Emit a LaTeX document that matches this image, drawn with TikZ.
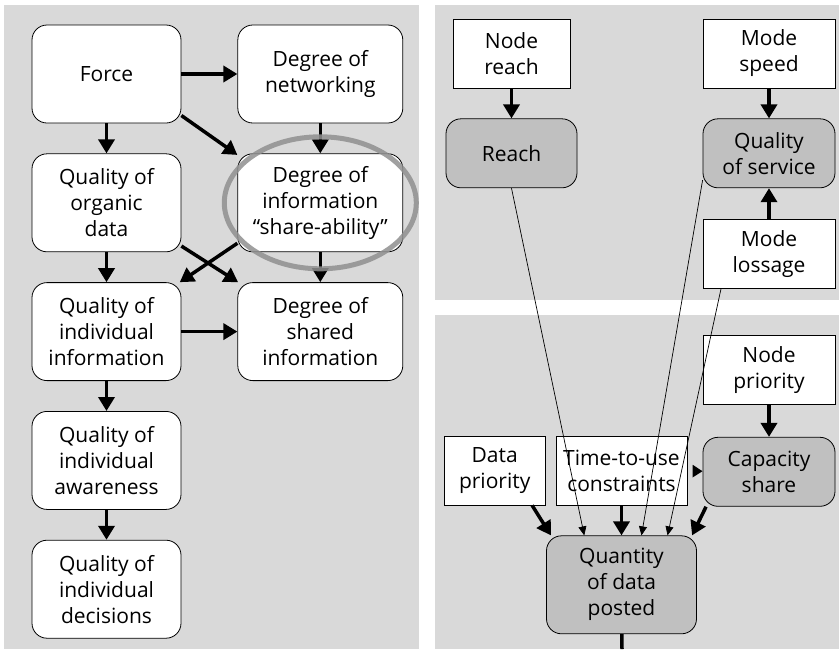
\documentclass[tikz,border=0pt]{standalone}
\usepackage{fontspec}
\setmainfont{Open Sans}
\usetikzlibrary{positioning,arrows.meta}
\definecolor{panel}{HTML}{D9D9D9}
\definecolor{shade}{HTML}{C0C0C0}
\definecolor{ring}{HTML}{909090}

\begin{document}
\begin{tikzpicture}[x=1pt, y=1pt, font=\fontsize{21}{26}\selectfont,
      c/.style={draw, fill=white, rounded corners=15pt, minimum width=149pt,
                minimum height=98pt, inner sep=0pt, align=center, line width=0.8pt},
      cw/.style={c, minimum width=165pt},
      cg/.style={draw, fill=shade, rounded corners=15pt, minimum height=69pt,
                 inner sep=0pt, align=center, line width=0.8pt},
      bx/.style={draw, fill=white, minimum height=69pt, inner sep=0pt,
                 align=center, line width=0.8pt},
      ar/.style={-{Triangle[length=14pt, width=16pt]}, line width=3.5pt},
      th/.style={-{Triangle[length=9pt, width=8pt]}, line width=0.7pt}]
    \useasboundingbox (0,0) rectangle (839,-649);
    \fill[panel] (4,-5) rectangle (419,-649);
    \fill[panel] (435,-5) rectangle (839,-300);
    \fill[panel] (435,-315) rectangle (839,-649);

    % left panel
    \node[c] (force) at (106.5,-74) {Force};
    \node[cw, right=56pt of force] (net) {Degree of\\networking};
    \node[c, below=30pt of force] (org) {Quality of\\organic\\data};
    \node[cw, below=30pt of net] (share) {Degree of\\information\\“share-ability”};
    \node[c, below=30pt of org] (indinfo) {Quality of\\individual\\information};
    \node[cw, below=30pt of share] (shared) {Degree of\\shared\\information};
    \node[c, below=30pt of indinfo] (aware) {Quality of\\individual\\awareness};
    \node[c, below=30pt of aware] (decis) {Quality of\\individual\\decisions};

    \draw[ar] (force) -- (net);
    \draw[ar] (force) -- (org);
    \draw[ar] (force.-29) -- (share.150);
    \draw[ar] (net) -- (share);
    \draw[ar] (org) -- (indinfo);
    \draw[ar] (org.-30) -- (shared.149);
    \draw[ar] (share.206) -- (indinfo.34);
    \draw[ar] (share) -- (shared);
    \draw[ar] (indinfo) -- (shared);
    \draw[ar] (indinfo) -- (aware);
    \draw[ar] (aware) -- (decis);
    \draw[ring, line width=5pt, opacity=.85] (share) ellipse [x radius=96, y radius=66];

    % right panel
    \node[bx, minimum width=117pt] (nreach) at (511.5,-53.5) {Node\\reach};
    \node[cg, minimum width=131pt, below=30pt of nreach] (reach) {Reach};
    \node[bx, minimum width=132pt] (speed) at (769,-53.5) {Mode\\speed};
    \node[cg, minimum width=132pt, below=30pt of speed] (qos) {Quality\\of service};
    \node[bx, minimum width=132pt, below=31pt of qos] (loss) {Mode\\lossage};
    \node[bx, minimum width=132pt] (npri) at (769,-370) {Node\\priority};
    \node[cg, minimum width=132pt, below=32pt of npri] (cap) {Capacity\\share};
    \node[bx, minimum width=131pt] (time) at (621.5,-470.5) {Time-to-use\\constraints};
    \node[bx, minimum width=101pt, left=10pt of time] (dpri) {Data\\priority};
    \node[cg, minimum width=150pt, minimum height=98pt, below=30pt of time] (qty)
      {Quantity\\of data\\posted};
    \coordinate (out) at (622,-649);

    \draw[ar] (nreach) -- (reach);
    \draw[ar] (speed) -- (qos);
    \draw[ar] (loss) -- (qos);
    \draw[ar] (npri) -- (cap);
    \draw[ar] (time) -- (qty);
    \draw[ar] (dpri.-43) -- (qty.145);
    \draw[ar] (cap.209) -- (qty.35);
    \draw[-{Triangle[length=10pt, width=12pt]}, line width=3pt, shorten <=6pt] (time) -- (cap);
    \draw[line width=3.5pt] (qty) -- (out);
    \draw[th] (reach.south) -- (qty.127);
    \draw[th] (qos.202) -- (qty.68);
    \draw[th] (loss.216) -- (qty.47);
  \end{tikzpicture}
\end{document}
